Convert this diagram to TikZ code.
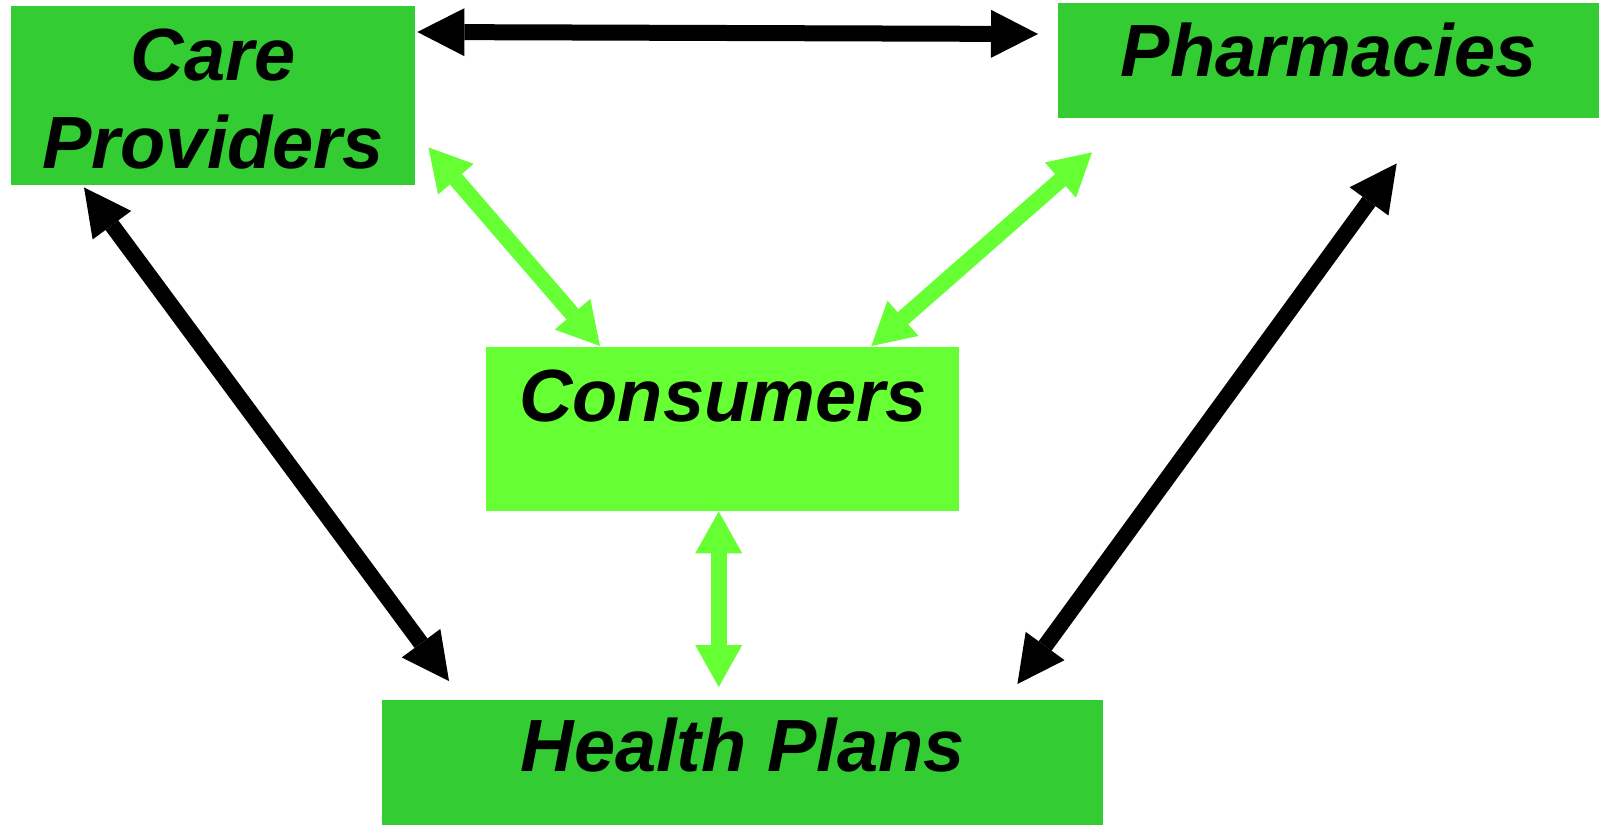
\documentclass[tikz,border=0pt]{standalone}
\usepackage{fontspec}
\setmainfont{Liberation Sans}
\usetikzlibrary{arrows.meta}
\definecolor{darkgreen}{HTML}{33CC33}
\definecolor{lightgreen}{HTML}{66FF33}
\begin{document}
\begin{tikzpicture}[x=1pt,y=-1pt,
  box/.style={fill=darkgreen, inner sep=0pt, anchor=north west,
    font=\fontsize{74}{88}\selectfont\bfseries\itshape},
  blackarrow/.style={line width=16pt, black,
    arrows={Triangle[length=47pt,width=48pt,line width=0pt]-Triangle[length=47pt,width=48pt,line width=0pt]}},
  greenarrow/.style={line width=16pt, lightgreen,
    arrows={Triangle[length=42pt,width=47pt,line width=0pt]-Triangle[length=42pt,width=47pt,line width=0pt]}}]
\useasboundingbox (0,0) rectangle (1599,825);

\node[box, minimum width=404pt, text height=162pt, text depth=17pt, align=center] (care) at (11,6) {Care\\Providers};
\node[box, minimum width=541pt, text height=73pt, text depth=42pt] (pharm) at (1058,3) {Pharmacies};
\node[box, fill=lightgreen, minimum width=473pt, text height=74pt, text depth=90pt] (cons) at (486,347) {Consumers};
\node[box, minimum width=721pt, text height=71pt, text depth=54pt] (plans) at (382,700) {Health Plans};

\draw[blackarrow] ([shift={(2,26)}]care.north east) -- ([shift={(-20,31)}]pharm.north west);
\draw[blackarrow] ([shift={(73,2)}]care.south west) -- ([shift={(67,-19)}]plans.north west);
\draw[blackarrow] ([shift={(68,45)}]pharm.south) -- ([shift={(-86,-16)}]plans.north east);
\draw[greenarrow] ([shift={(13,-38)}]care.south east) -- ([shift={(114,-1)}]cons.north west);
\draw[greenarrow] ([shift={(34,34)}]pharm.south west) -- ([shift={(-88,-1)}]cons.north east);
\draw[greenarrow] ([shift={(-4,0)}]cons.south) -- ([shift={(-24,-13)}]plans.north);
\end{tikzpicture}
\end{document}
